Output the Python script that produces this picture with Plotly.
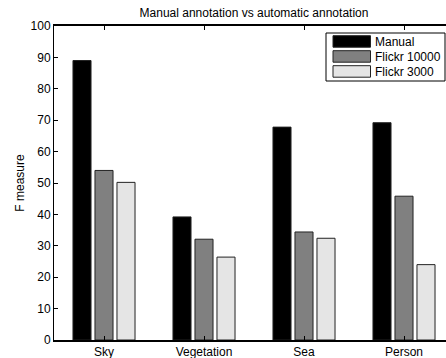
import plotly.graph_objects as go

categories = ["Sky", "Vegetation", "Sea", "Person"]
manual = [89.0, 39.2, 67.8, 69.2]
flickr_10000 = [54.0, 32.1, 34.4, 45.8]
flickr_3000 = [50.2, 26.4, 32.4, 24.0]
series_names = ["Manual", "Flickr 10000", "Flickr 3000"]
series_colors = ["#000000", "#808080", "#e5e5e5"]
y_ticks = list(range(0, 101, 10))

FONT = "Liberation Sans, Arial, Helvetica, sans-serif"

fig = go.Figure()
for name, vals, col in zip(series_names, [manual, flickr_10000, flickr_3000], series_colors):
    fig.add_trace(go.Bar(
        x=categories, y=vals, name=name,
        marker=dict(color=col, line=dict(color="#222222", width=1)),
        showlegend=False,
    ))

# custom legend (box + wide swatches), in paper coords
W, H = 446, 358
l, r, t, b = 54, 0, 26, 18
pw, ph = W - l - r, H - t - b

def px2paper_x(x):
    return (x - l) / pw

def px2paper_y(y):
    return (H - b - y) / ph

shapes = [dict(type="rect", xref="paper", yref="paper",
               x0=px2paper_x(326), x1=px2paper_x(445),
               y0=px2paper_y(81), y1=px2paper_y(33),
               line=dict(color="black", width=1), fillcolor="white", layer="above")]
annotations = []
for i, (name, col) in enumerate(zip(series_names, series_colors)):
    y0 = 35.7 + i * 15
    shapes.append(dict(type="rect", xref="paper", yref="paper",
                       x0=px2paper_x(333), x1=px2paper_x(370.5),
                       y0=px2paper_y(y0 + 11.5), y1=px2paper_y(y0),
                       line=dict(color="#222222", width=1), fillcolor=col, layer="above"))
    annotations.append(dict(xref="paper", yref="paper",
                            x=px2paper_x(373), y=px2paper_y(y0 + 5.8),
                            text=name, showarrow=False, xanchor="left", yanchor="middle",
                            font=dict(family=FONT, size=12, color="black")))

fig.update_layout(
    width=W, height=H,
    margin=dict(l=l, r=r, t=t, b=b, pad=0),
    paper_bgcolor="white", plot_bgcolor="white",
    barmode="group", bargap=0.34, bargroupgap=0.18,
    font=dict(family=FONT, size=12, color="black"),
    title=dict(text="Manual annotation vs automatic annotation",
               x=(254 / W), xanchor="center", y=1 - 12.7 / H, yanchor="middle",
               font=dict(family=FONT, size=12, color="black")),
    shapes=shapes, annotations=annotations,
    xaxis=dict(range=[-0.5, 3.42], showline=True, linecolor="black", linewidth=2,
               mirror="ticks", ticks="inside", ticklen=4, tickcolor="black",
               showgrid=False, zeroline=False, tickfont=dict(size=12)),
    yaxis=dict(range=[0, 100], tickvals=y_ticks, showline=True, linecolor="black",
               linewidth=1, ticks="inside", ticklen=4, tickcolor="black",
               showgrid=False, zeroline=False, tickfont=dict(size=12),
               title=dict(text="F measure", font=dict(size=12), standoff=3)),
)

fig.write_html("out.html")
